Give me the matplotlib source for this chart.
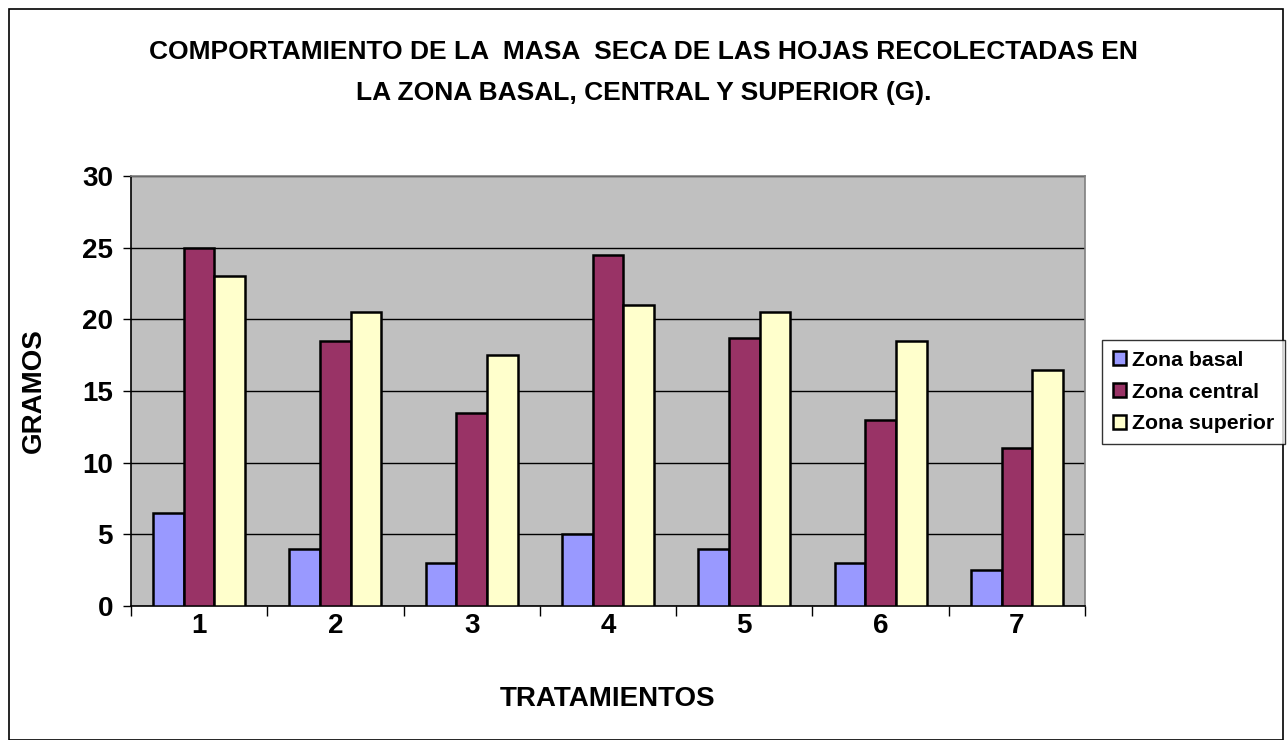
import numpy as np
import matplotlib
matplotlib.use("Agg")
from matplotlib import pyplot as plt
from matplotlib.patches import Rectangle

tratamientos = ["1", "2", "3", "4", "5", "6", "7"]
zona_basal = [6.5, 4.0, 3.0, 5.0, 4.0, 3.0, 2.5]
zona_central = [25.0, 18.5, 13.5, 24.5, 18.7, 13.0, 11.0]
zona_superior = [23.0, 20.5, 17.5, 21.0, 20.5, 18.5, 16.5]
series_names = ["Zona basal", "Zona central", "Zona superior"]
y_ticks = [0, 5, 10, 15, 20, 25, 30]


def bar_chart():
    plt.rcParams["font.family"] = ["Liberation Sans", "DejaVu Sans"]
    plt.rcParams["font.weight"] = "bold"

    fig = plt.figure(figsize=(12.87, 7.40), dpi=100)
    fig.patch.set_facecolor("white")
    # outer chart border
    fig.add_artist(Rectangle((9 / 1287, 0.0), 1274 / 1287, 731 / 740,
                             transform=fig.transFigure, fill=False,
                             edgecolor="black", linewidth=1.2))

    ax = fig.add_axes([131 / 1287, 134 / 740, 954 / 1287, 430 / 740])
    ax.set_facecolor("#C0C0C0")

    colors = ["#9999FF", "#993366", "#FFFFCC"]
    data = [zona_basal, zona_central, zona_superior]
    x = np.arange(len(tratamientos))
    w = 0.225
    for i, (vals, c, name) in enumerate(zip(data, colors, series_names)):
        ax.bar(x + (i - 1) * w, vals, width=w, color=c, edgecolor="black",
               linewidth=1.8, label=name, zorder=3)

    ax.set_xlim(-0.5, len(tratamientos) - 0.5)
    ax.set_ylim(0, 30)
    ax.set_yticks(y_ticks)
    ax.yaxis.grid(True, color="black", linewidth=1.0, zorder=1)
    ax.set_axisbelow(True)

    # category ticks between groups, labels centered
    ax.set_xticks(np.arange(-0.5, len(tratamientos)), minor=False)
    ax.set_xticklabels([])
    ax.set_xticks(x, minor=True)
    ax.set_xticklabels(tratamientos, minor=True, fontsize=20, fontweight="bold")
    ax.tick_params(axis="x", which="major", direction="out", length=7, width=1, color="black")
    ax.tick_params(axis="x", which="minor", length=0, pad=5)
    ax.tick_params(axis="y", direction="out", length=6, width=1, labelsize=20, pad=7)
    for lab in ax.get_yticklabels():
        lab.set_fontweight("bold")

    for s in ["top", "right"]:
        ax.spines[s].set_color("#808080")
        ax.spines[s].set_linewidth(1.2)
    for s in ["left", "bottom"]:
        ax.spines[s].set_color("black")
        ax.spines[s].set_linewidth(1.2)

    ax.set_xlabel("TRATAMIENTOS", fontsize=20, fontweight="bold", labelpad=34)
    ax.set_ylabel("GRAMOS", fontsize=20, fontweight="bold", labelpad=25)

    fig.text(0.5, 1 - 52 / 740,
             "COMPORTAMIENTO DE LA  MASA  SECA DE LAS HOJAS RECOLECTADAS EN",
             ha="center", va="center", fontsize=19, fontweight="bold")
    fig.text(0.5, 1 - 93 / 740,
             "LA ZONA BASAL, CENTRAL Y SUPERIOR (G).",
             ha="center", va="center", fontsize=19, fontweight="bold")

    leg = fig.legend(loc="center left", bbox_to_anchor=(1102 / 1287, 1 - 392 / 740),
                     prop={"weight": "bold", "size": 15.3}, frameon=True, fancybox=False,
                     edgecolor="black", handlelength=0.65, handleheight=0.65,
                     handletextpad=0.25, borderpad=0.5, labelspacing=0.6,
                     borderaxespad=0.0)
    leg.get_frame().set_linewidth(1.0)

    plt.savefig("out.png", dpi=100)


if __name__ == "__main__":
    bar_chart()
